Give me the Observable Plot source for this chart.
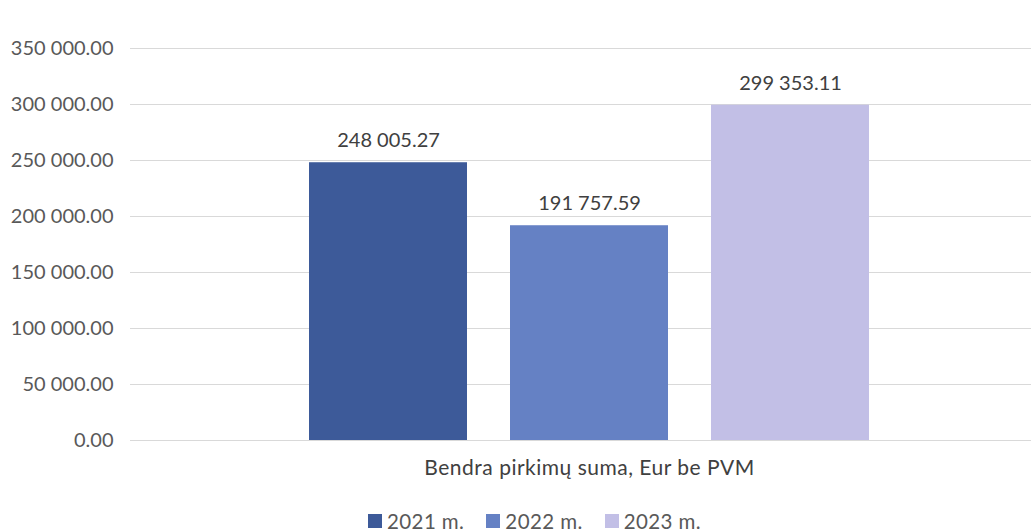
<!DOCTYPE html>
<html>
<head>
<meta charset="utf-8">
<script src="https://cdn.jsdelivr.net/npm/d3@7"></script>
<script src="https://cdn.jsdelivr.net/npm/@observablehq/plot@0.6"></script>
<style>
  html, body { margin: 0; padding: 0; background: #fff; }
  #chart { width: 1031px; font-family: Lato, "Open Sans", sans-serif; }
  .legend { display: flex; justify-content: center; gap: 22px; font-size: 20.5px; color: #595959; padding-left: 38px; margin-top: 19px; letter-spacing: 0.4px; }
  .legend span.item { display: inline-flex; align-items: center; gap: 5px; }
  .legend i { display: inline-block; width: 14px; height: 14px; }
  .catlabel text { letter-spacing: 0.5px; }
</style>
</head>
<body>
<div id="chart"></div>
<script>
const category = "Bendra pirkimų suma, Eur be PVM";
const years = ["2021 m.", "2022 m.", "2023 m."];
const values = [248005.27, 191757.59, 299353.11];
const colors = ["#3d5a99", "#6581c4", "#c2bfe6"];
const yTicks = [0, 50000, 100000, 150000, 200000, 250000, 300000, 350000];

const loc = d3.formatLocale({decimal: ".", thousands: " ", grouping: [3], currency: ["", ""]});
const fmt = loc.format(",.2f");

const data = years.map((y, i) => ({year: y, value: values[i]}));

const plot = Plot.plot({
  width: 1031,
  height: 490,
  marginTop: 48,
  marginBottom: 50,
  marginLeft: 130,
  marginRight: 0,
  style: {fontFamily: "Lato, 'Open Sans', sans-serif", fontSize: "20px", color: "#595959", background: "#fff"},
  x: {domain: years, range: [308, 869], paddingInner: 0.214, paddingOuter: 0},
  y: {domain: [0, 350000]},
  color: {domain: years, range: colors},
  marks: [
    Plot.ruleY(yTicks, {stroke: "#d9d9d9", strokeWidth: 1}),
    Plot.barY(data, {x: "year", y: "value", fill: "year"}),
    Plot.text(data, {x: "year", y: "value", text: d => fmt(d.value), dy: -22, fill: "#404040", fontSize: 20}),
    Plot.axisY(yTicks, {tickFormat: fmt, tickSize: 0, tickPadding: 17, label: null, fontSize: 20, fill: "#595959"}),
    Plot.axisX([years[1]], {tickFormat: () => category, tickSize: 0, tickPadding: 20, label: null, fontSize: 21, fill: "#404040", className: "catlabel"})
  ]
});
document.getElementById("chart").appendChild(plot);

const legend = document.createElement("div");
legend.className = "legend";
years.forEach((y, i) => {
  const s = document.createElement("span");
  s.className = "item";
  s.innerHTML = `<i style="background:${colors[i]}"></i>${y}`;
  legend.appendChild(s);
});
document.getElementById("chart").appendChild(legend);
</script>
</body>
</html>
